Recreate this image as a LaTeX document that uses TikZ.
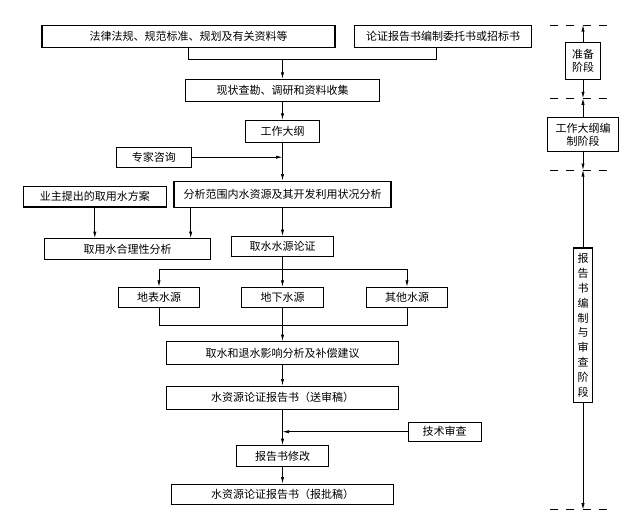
\documentclass[tikz,border=0pt]{standalone}
\usepackage{fontspec}
\setmainfont{Noto Sans CJK SC}
\usetikzlibrary{arrows.meta}
\begin{document}
\begin{tikzpicture}[x=1pt,y=-1pt,
  box/.style={draw, line width=1.1pt, inner sep=0pt, align=center,
    font=\fontsize{11pt}{13pt}\selectfont},
  conn/.style={line width=0.7pt},
  arr/.style={conn, -{Latex[length=6.5pt,width=3.2pt]}},
  stageline/.style={line width=0.8pt, dash pattern=on 8pt off 8.3pt}]
\useasboundingbox (0,0) rectangle (626,530);
% main boxes
\node[box, minimum width=293pt, minimum height=22pt] (law) at (188.5,36.7) {法律法规、规范标准、规划及有关资料等};
\node[box, minimum width=177.4pt, minimum height=21.6pt] (entrust) at (443,36.5) {论证报告书编制委托书或招标书};
\node[box, minimum width=193.3pt, minimum height=22pt] (survey) at (282.5,90.3) {现状查勘、调研和资料收集};
\node[box, minimum width=73.6pt, minimum height=22pt] (outline) at (282.5,131.3) {工作大纲};
\node[box, minimum width=75pt, minimum height=20.3pt] (expert) at (153.8,157.2) {专家咨询};
\node[box, minimum width=217pt, minimum height=26.3pt] (analysis) at (282.5,194.2) {分析范围内水资源及其开发利用状况分析};
\node[box, minimum width=143.3pt, minimum height=20.3pt] (owner) at (94.8,196.8) {业主提出的取用水方案};
\node[box, minimum width=166.4pt, minimum height=20.6pt] (rational) at (127.5,249) {取用水合理性分析};
\node[box, minimum width=101.3pt, minimum height=19.6pt] (source) at (282.5,246.5) {取水水源论证};
\node[box, minimum width=81pt, minimum height=20.4pt] (surface) at (159,297.5) {地表水源};
\node[box, minimum width=81.3pt, minimum height=20.4pt] (ground) at (282.5,297.5) {地下水源};
\node[box, minimum width=80.6pt, minimum height=20.4pt] (other) at (407,297.5) {其他水源};
\node[box, minimum width=232pt, minimum height=22.6pt] (impact) at (282.5,353) {取水和退水影响分析及补偿建议};
\node[box, minimum width=232.7pt, minimum height=23.3pt] (draft) at (282.5,397.7) {水资源论证报告书（送审稿）};
\node[box, minimum width=72.7pt, minimum height=18.7pt] (review) at (444.7,431.7) {技术审查};
\node[box, minimum width=92.7pt, minimum height=21pt] (revise) at (282.5,456.2) {报告书修改};
\node[box, minimum width=221.6pt, minimum height=20.3pt] (final) at (282.5,494.2) {水资源论证报告书（报批稿）};
% stage column
\node[box, minimum width=35.3pt, minimum height=37pt] (r1) at (583,60.8) {准备\\阶段};
\node[box, minimum width=71.6pt, minimum height=34pt] (r2) at (583,134.7) {工作大纲编\\制阶段};
\node[box, minimum width=18.7pt, minimum height=154.6pt, font=\fontsize{11pt}{14.9pt}\selectfont] (r3) at (583,325.3) {报\\告\\书\\编\\制\\与\\审\\查\\阶\\段};
\coordinate (d1) at (583,25);
\coordinate (d2) at (583,98.3);
\coordinate (d3) at (583,170);
\coordinate (d4) at (583,509.7);
\foreach \d in {d1,d2,d3,d4}{
  \draw[stageline] ([xshift=-33pt]\d) -- ([xshift=31pt]\d);
}
\draw[arr] (r1.north) -- (d1);
\draw[arr] (r1.south) -- (d2);
\draw[arr] (r2.north) -- (d2);
\draw[arr] (r2.south) -- (d3);
\draw[arr] (r3.north) -- (d3);
\draw[arr] (r3.south) -- (d4);
% connectors
\coordinate (j1) at (282.5,59.7);
\draw[conn] (law.south) |- (j1);
\draw[conn] ([xshift=-7pt]entrust.south) |- (j1);
\draw[arr] (j1) -- (survey.north);
\draw[arr] (survey.south) -- (outline.north);
\draw[arr] (outline.south) -- (analysis.north);
\draw[arr] (expert.east) -- (expert.east -| outline.south);
\draw[arr] (owner.south) -- (owner.south |- rational.north);
\draw[arr] ([xshift=-91.8pt]analysis.south) -- ([xshift=-91.8pt]analysis.south |- rational.north);
\draw[arr] (analysis.south) -- (source.north);
\coordinate (b) at (282.5,269.3);
\draw[conn] (source.south) -- (b);
\draw[arr] (b) -| (surface.north);
\draw[arr] (b) -| (other.north);
\draw[arr] (b) -- (ground.north);
\coordinate (m) at (282.5,325);
\draw[conn] (surface.south) |- (m);
\draw[conn] (other.south) |- (m);
\draw[arr] (ground.south) -- (impact.north);
\draw[arr] (impact.south) -- (draft.north);
\draw[arr] (draft.south) -- (revise.north);
\draw[arr] (review.west) -- (review.west -| draft.south);
\draw[arr] (revise.south) -- (final.north);
\end{tikzpicture}
\end{document}
